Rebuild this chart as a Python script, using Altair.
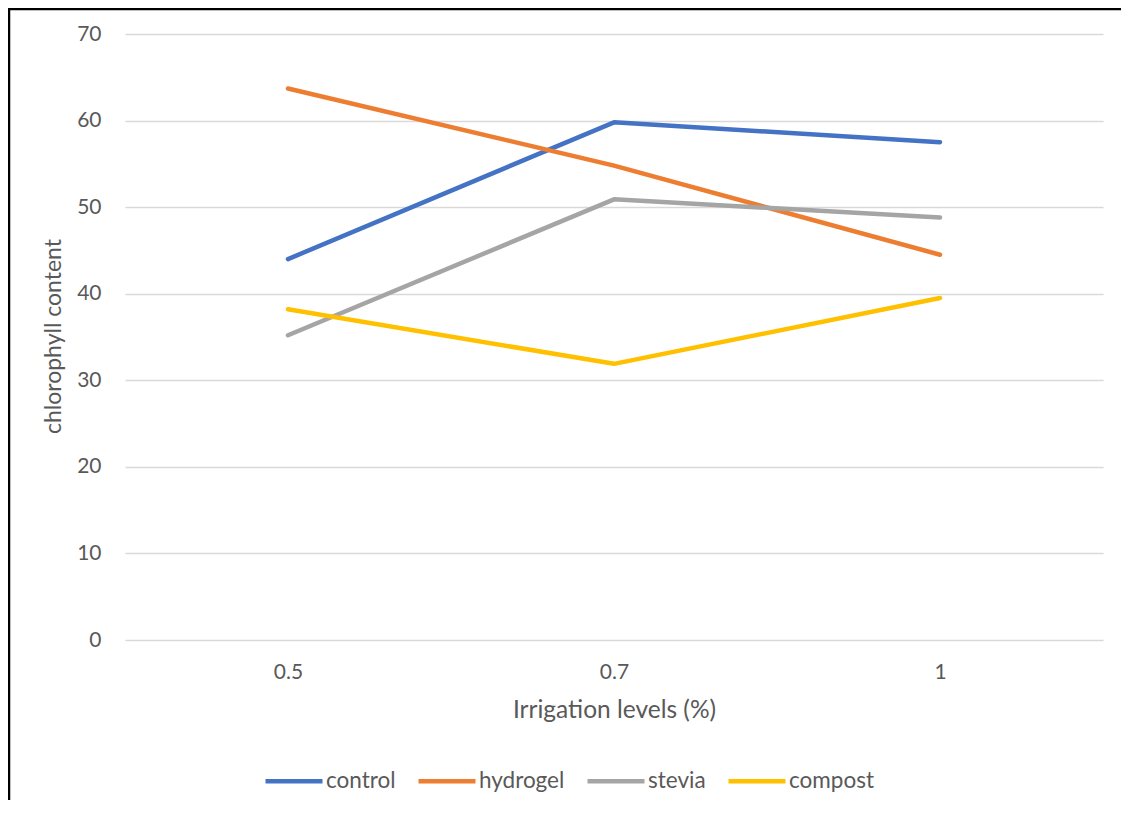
import altair as alt
import pandas as pd

levels = ["0.5", "0.7", "1"]
series = ["control", "hydrogel", "stevia", "compost"]
control = [44.0, 59.8, 57.5]
hydrogel = [63.7, 54.8, 44.5]
stevia = [35.2, 50.9, 48.8]
compost = [38.2, 31.9, 39.5]
colors = ["#4472C4", "#ED7D31", "#A5A5A5", "#FFC000"]
y_ticks = [0, 10, 20, 30, 40, 50, 60, 70]

rows = []
for name, vals in zip(series, [control, hydrogel, stevia, compost]):
    for lvl, v in zip(levels, vals):
        rows.append({"level": lvl, "series": name, "value": v})
df = pd.DataFrame(rows)

FONT = "Lato"
TXT = "#595959"

lines = alt.Chart(df).mark_line(
    strokeWidth=4.5, strokeCap="round", strokeJoin="round"
).encode(
    x=alt.X(
        "level:N",
        sort=levels,
        scale=alt.Scale(type="point", padding=0.5),
        axis=alt.Axis(
            title="Irrigation levels (%)",
            labelAngle=0,
            domain=False,
            ticks=False,
            tickSize=0,
            grid=False,
            labelFontSize=21,
            labelColor=TXT,
            labelFont=FONT,
            labelBaseline="alphabetic",
            labelPadding=38,
            titleFont=FONT,
            titleFontSize=24.5,
            titleFontWeight="normal",
            titleColor=TXT,
            titleBaseline="alphabetic",
            titleY=77,
        ),
    ),
    y=alt.Y(
        "value:Q",
        scale=alt.Scale(domain=[0, 70], nice=False, zero=True),
        axis=alt.Axis(
            title="chlorophyll content",
            values=y_ticks,
            domain=False,
            ticks=False,
            tickSize=0,
            grid=True,
            gridColor="#d9d9d9",
            gridWidth=1.3,
            labelFontSize=21,
            labelColor=TXT,
            labelFont=FONT,
            labelPadding=24,
            titleFont=FONT,
            titleFontSize=23,
            titleFontWeight="normal",
            titleColor=TXT,
            titleAngle=-90,
            titleAlign="center",
            titleBaseline="middle",
            titleX=-72,
            titleY=302,
        ),
    ),
    color=alt.Color(
        "series:N",
        sort=series,
        scale=alt.Scale(domain=series, range=colors),
        legend=alt.Legend(
            title=None,
            orient="none",
            legendX=138,
            legendY=716,
            direction="horizontal",
            columns=4,
            columnPadding=13,
            symbolType="stroke",
            symbolSize=3249,
            symbolStrokeWidth=4.5,
            labelFont=FONT,
            labelFontSize=22.5,
            labelColor=TXT,
            labelOffset=1,
        ),
    ),
)

border_df = pd.DataFrame({"k": [0]})
left_border = alt.Chart(border_df).mark_rule(color="black", strokeWidth=2.5).encode(
    x=alt.value(-116), y=alt.value(-30), y2=alt.value(800)
)
top_border = alt.Chart(border_df).mark_rule(color="black", strokeWidth=2.5).encode(
    x=alt.value(-120), x2=alt.value(1100), y=alt.value(-25)
)

chart = alt.layer(lines, left_border, top_border).properties(
    width=978,
    height=606,
    autosize=alt.AutoSizeParams(type="none"),
    padding={"left": 117, "top": 26, "right": 18, "bottom": 160},
    background="white",
).configure_view(stroke=None)

chart.save("out.html", embed_options={"renderer": "svg", "actions": False})
